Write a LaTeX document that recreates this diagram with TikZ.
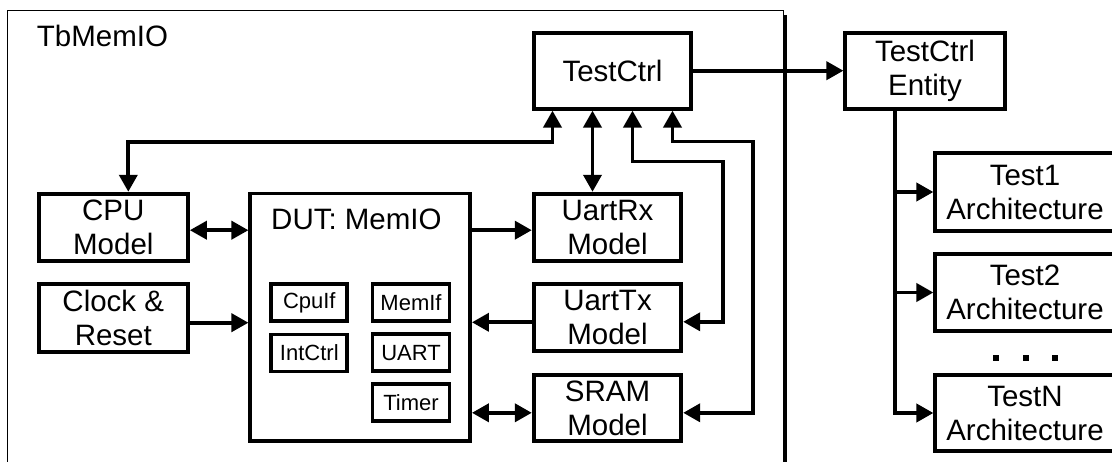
\documentclass[tikz,border=0pt]{standalone}
\usepackage{fontspec}
\setmainfont{Liberation Sans}
\usepackage{tikz}
\usetikzlibrary{positioning}
\usetikzlibrary{arrows.meta}

\begin{document}
\begin{tikzpicture}[x=1pt, y=-1pt, line width=3.8pt,
    blk/.style={draw, line width=3.8pt, inner sep=0pt, align=center, font=\fontsize{29.5}{34}\selectfont},
    sub/.style={draw, line width=3.8pt, inner sep=0pt, minimum width=77pt, minimum height=37pt, font=\fontsize{22}{26}\selectfont},
    tip/.style={-{Triangle[length=17pt,width=18pt]}},
    both/.style={{Triangle[length=17pt,width=18pt]}-{Triangle[length=17pt,width=18pt]}}]

      \useasboundingbox (0,0) rectangle (1112,462);
      \clip (0,0) rectangle (1112,462);

      \draw[line width=1.3pt] (7.3,470) -- (7.3,10.7) -- (783.3,10.7) -- (783.3,470);
      \draw[line width=4pt] (785,15) -- (785,470);
      \node[anchor=base west, font=\fontsize{29.5}{34}\selectfont, inner sep=0pt] (tblbl) at (35,46.7) {TbMemIO};

      \node[blk, minimum width=157.6pt, minimum height=76pt] (ctrl) at (612.5,70.7) {TestCtrl};

      \node[blk, minimum width=149.3pt, minimum height=67pt] (cpu) at (113.3,227.2) {CPU\\Model};
      \node[blk, minimum width=149.3pt, minimum height=67.7pt] (clk) at (113.3,318.2) {Clock \&\\Reset};

      \node[blk, minimum width=219.7pt, minimum height=247.8pt] (dut) at (360.2,317.4) {};
      \node[anchor=base west, font=\fontsize{29.5}{34}\selectfont, inner sep=0pt] (dutlbl) at (269.3,229.3) {DUT: MemIO};

      \node[sub, minimum width=76pt] (cpuif) at (309.3,302.8) {CpuIf};
      \node[sub, minimum width=76pt, below=9.4pt of cpuif] (intctrl) {IntCtrl};
      \node[sub] (memif) at (411,302.5) {MemIf};
      \node[sub, below=9.4pt of memif] (uart) {UART};
      \node[sub, below=9.4pt of uart] (timer) {Timer};

      \node[blk, minimum width=147.6pt, minimum height=67pt] (rx) at (607.5,227.2) {UartRx\\Model};
      \node[blk, minimum width=147.6pt, minimum height=67pt] (tx) at (607.5,317.8) {UartTx\\Model};
      \node[blk, minimum width=147.6pt, minimum height=66pt] (sram) at (607.5,408.3) {SRAM\\Model};

      \node[blk, minimum width=159.4pt, minimum height=76pt] (ent) at (925,70.7) {TestCtrl\\Entity};
      \node[blk, minimum width=179.4pt, minimum height=78pt] (t1) at (1025,192) {Test1\\Architecture};
      \node[blk, minimum width=179.4pt, minimum height=77.6pt] (t2) at (1025,292.5) {Test2\\Architecture};
      \node[blk, minimum width=179.4pt, minimum height=75.4pt] (tn) at (1025,413) {TestN\\Architecture};

      \foreach \x in {996,1025.7,1054.7}
        \fill (\x-3,354.7) rectangle ++(6,6);

      \draw[both] ([yshift=-3pt]cpu.east) -- ([yshift=-3pt]cpu.east -| dut.west);
      \draw[tip] ([yshift=-4.5pt]clk.east) -- ([yshift=-4.5pt]clk.east -| dut.west);
      \draw[tip] ([yshift=-3pt]rx.west -| dut.east) -- ([yshift=-3pt]rx.west);
      \draw[tip] ([yshift=-4.5pt]tx.west) -- ([yshift=-4.5pt]tx.west -| dut.east);
      \draw[both] ([yshift=-4.5pt]sram.west -| dut.east) -- ([yshift=-4.5pt]sram.west);

      \draw[both] ([xshift=15pt]cpu.north) -- ++(0,-50) -| ([xshift=-60pt]ctrl.south);
      \draw[both] ([xshift=-15pt]rx.north) -- ([xshift=-20pt]ctrl.south);
      \draw[both] ([xshift=20pt]ctrl.south) -- ++(0,51) -| ([xshift=40pt,yshift=-4pt]tx.east) -- ([yshift=-4pt]tx.east);
      \draw[both] ([xshift=60pt]ctrl.south) -- ++(0,31) -| ([xshift=70pt,yshift=-4.5pt]sram.east) -- ([yshift=-4.5pt]sram.east);

      \draw[tip] (ctrl.east) -- (ent.west);

      \coordinate (trunk) at ([xshift=-30pt]ent.south);
      \draw[tip] (trunk) |- (tn.west);
      \draw[tip] (trunk |- t1.west) -- (t1.west);
      \draw[tip] (trunk |- t2.west) -- (t2.west);

\end{tikzpicture}
\end{document}
